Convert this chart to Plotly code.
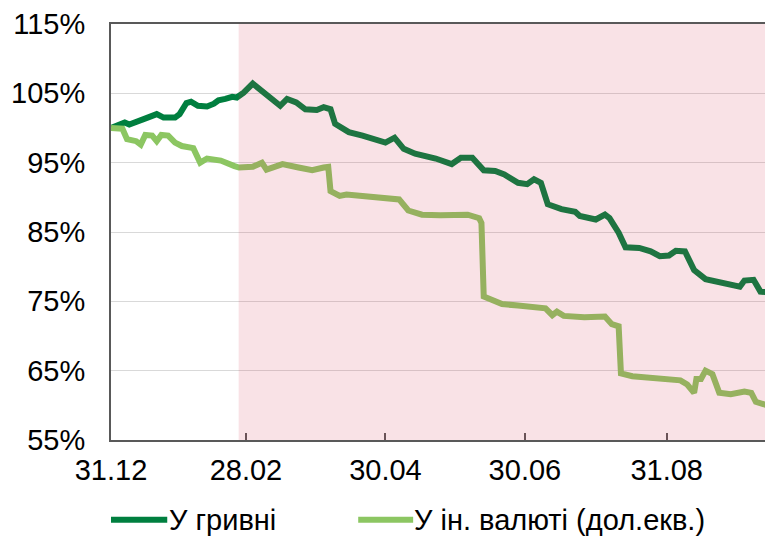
import plotly.graph_objects as go

# ---- data ----
uah_dates = [
    "2021-12-31", "2022-01-06", "2022-01-08", "2022-01-12", "2022-01-16", "2022-01-20",
    "2022-01-23", "2022-01-28", "2022-01-30", "2022-02-02", "2022-02-04", "2022-02-07",
    "2022-02-11", "2022-02-14", "2022-02-16", "2022-02-19", "2022-02-22", "2022-02-24",
    "2022-02-27", "2022-03-03", "2022-03-06", "2022-03-09", "2022-03-15", "2022-03-18",
    "2022-03-22", "2022-03-26", "2022-03-31", "2022-04-03", "2022-04-06", "2022-04-08",
    "2022-04-14", "2022-04-20", "2022-04-25", "2022-04-30", "2022-05-04", "2022-05-08",
    "2022-05-13", "2022-05-22", "2022-05-29", "2022-06-02", "2022-06-07", "2022-06-12",
    "2022-06-17", "2022-06-21", "2022-06-27", "2022-07-01", "2022-07-04", "2022-07-07",
    "2022-07-10", "2022-07-16", "2022-07-22", "2022-07-24", "2022-07-31", "2022-08-04",
    "2022-08-06", "2022-08-10", "2022-08-13", "2022-08-19", "2022-08-24", "2022-08-28",
    "2022-09-01", "2022-09-04", "2022-09-08", "2022-09-12", "2022-09-17", "2022-09-21",
    "2022-09-27", "2022-10-02", "2022-10-04", "2022-10-08", "2022-10-11", "2022-10-14",
]
uah_values = [
    100.0, 100.8, 100.5, 101.1, 101.5, 102.0,
    101.5, 101.5, 102.0, 103.6, 103.8, 103.2,
    103.1, 103.5, 104.0, 104.2, 104.5, 104.4,
    105.1, 106.4, 105.6, 105.0, 103.2, 104.2,
    103.7, 102.7, 102.6, 103.0, 102.7, 100.6,
    99.4, 98.9, 98.3, 97.9, 98.6, 97.0,
    96.3, 95.6, 94.8, 95.7, 95.7, 93.9,
    93.8, 93.3, 92.1, 91.9, 92.6, 92.1,
    89.0, 88.3, 87.9, 87.3, 86.8, 87.5,
    87.0, 84.9, 82.8, 82.7, 82.2, 81.5,
    81.6, 82.3, 82.2, 79.5, 78.2, 77.9,
    77.4, 77.1, 78.0, 78.1, 76.4, 76.3,
]

fx_dates = [
    "2021-12-31", "2022-01-05", "2022-01-07", "2022-01-11", "2022-01-13", "2022-01-15",
    "2022-01-18", "2022-01-20", "2022-01-22", "2022-01-25", "2022-01-28", "2022-01-31",
    "2022-02-05", "2022-02-06", "2022-02-08", "2022-02-11", "2022-02-17", "2022-02-23",
    "2022-02-25", "2022-03-03", "2022-03-07", "2022-03-09", "2022-03-16", "2022-03-23",
    "2022-03-29", "2022-04-03", "2022-04-05", "2022-04-06", "2022-04-10", "2022-04-13",
    "2022-04-22", "2022-05-02", "2022-05-06", "2022-05-10", "2022-05-16", "2022-05-24",
    "2022-06-02", "2022-06-05", "2022-06-10", "2022-06-11", "2022-06-12", "2022-06-15",
    "2022-06-20", "2022-06-27", "2022-07-04", "2022-07-09", "2022-07-12", "2022-07-14",
    "2022-07-17", "2022-07-26", "2022-08-04", "2022-08-07", "2022-08-10", "2022-08-11",
    "2022-08-16", "2022-08-24", "2022-08-30", "2022-09-06", "2022-09-09", "2022-09-12",
    "2022-09-13", "2022-09-15", "2022-09-17", "2022-09-20", "2022-09-23", "2022-09-28",
    "2022-10-04", "2022-10-07", "2022-10-09", "2022-10-14",
]
fx_values = [
    100.0, 99.9, 98.4, 98.1, 97.6, 99.0,
    98.9, 98.1, 99.0, 98.9, 97.9, 97.4,
    97.1, 96.4, 95.0, 95.6, 95.3, 94.5,
    94.3, 94.4, 95.0, 94.0, 94.8, 94.3,
    93.9, 94.3, 94.4, 90.9, 90.2, 90.4,
    90.2, 89.9, 89.7, 88.1, 87.5, 87.4,
    87.4, 87.5, 87.0, 86.3, 75.7, 75.2,
    74.6, 74.4, 74.2, 74.0, 73.0, 73.5,
    72.9, 72.7, 72.8, 71.7, 71.4, 64.6,
    64.2, 63.9, 63.7, 63.6, 63.0, 61.8,
    63.8, 63.8, 65.0, 64.5, 61.8, 61.6,
    62.0, 61.8, 60.5, 60.0,
]

series_names = ["У гривні", "У ін. валюті (дол.екв.)"]
x_tick_dates = ["2021-12-31", "2022-02-28", "2022-04-30", "2022-06-30", "2022-08-31"]
x_tick_labels = ["31.12", "28.02", "30.04", "30.06", "31.08"]
y_tick_values = [55, 65, 75, 85, 95, 105, 115]
y_tick_labels = ["55%", "65%", "75%", "85%", "95%", "105%", "115%"]
x_start = "2021-12-31"
x_end = "2022-10-13"
war_start = "2022-02-24 20:00"

# ---- styles ----
DARK = "#007f3f"
LIGHT = "#8cc662"
AXIS = "#595959"
FONT = "Liberation Sans, Arial, sans-serif"
FS = 29
LW = 6

fig = go.Figure()
fig.add_trace(go.Scatter(x=uah_dates, y=uah_values, mode="lines", name=series_names[0],
                         line=dict(color=DARK, width=LW), showlegend=False))
fig.add_trace(go.Scatter(x=fx_dates, y=fx_values, mode="lines", name=series_names[1],
                         line=dict(color=LIGHT, width=LW), showlegend=False))

# shaded period (overlay above the lines)
fig.add_shape(type="rect", xref="x", yref="paper", x0=war_start, x1=x_end, y0=0, y1=1,
              fillcolor="rgb(214,48,76)", opacity=0.14, line=dict(width=0), layer="above")

# manual legend below the plot
legend_items = [
    (series_names[0], DARK, 0.0, 0.086, 0.086),
    (series_names[1], LIGHT, 0.378, 0.462, 0.461),
]
leg_y = -0.192
for name, color, lx0, lx1, tx in legend_items:
    fig.add_shape(type="line", xref="paper", yref="paper", x0=lx0, x1=lx1, y0=leg_y, y1=leg_y,
                  line=dict(color=color, width=LW))
    fig.add_annotation(xref="paper", yref="paper", x=tx, y=leg_y, text=name, showarrow=False,
                       xanchor="left", yanchor="middle", font=dict(family=FONT, size=FS, color="black"))

fig.update_xaxes(
    type="date", range=[x_start, x_end],
    tickvals=x_tick_dates, ticktext=x_tick_labels,
    ticks="inside", ticklen=7, tickwidth=1.5, tickcolor=AXIS,
    showline=True, linecolor=AXIS, linewidth=2, mirror=True,
    showgrid=False, zeroline=False,
    tickfont=dict(family=FONT, size=FS, color="black"),
    ticklabelstandoff=3,
)
fig.update_yaxes(
    range=[55, 115], tickvals=y_tick_values, ticktext=y_tick_labels,
    showline=True, linecolor=AXIS, linewidth=2,
    showgrid=True, gridcolor="#d9d9d9", gridwidth=1.2, zeroline=False,
    ticks="", tickfont=dict(family=FONT, size=FS, color="black"),
    ticklabelstandoff=18,
)
fig.update_layout(
    width=765, height=536,
    margin=dict(l=111, r=0, t=24, b=96),
    paper_bgcolor="white", plot_bgcolor="white",
    font=dict(family=FONT, size=FS, color="black"),
    showlegend=False,
)

# remove the default page margin so the figure fills the window exactly
fig.write_html(
    "out.html",
    config={"displayModeBar": False},
    post_script="document.body.style.margin='0';document.body.style.overflow='hidden';",
)
